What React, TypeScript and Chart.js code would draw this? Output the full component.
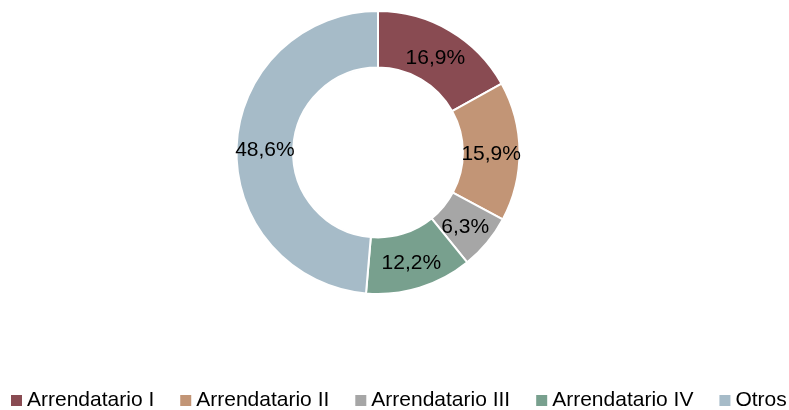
import React, { useEffect, useRef } from "react";
import { Chart, registerables } from "chart.js";

Chart.register(...registerables);

const categories = ["Arrendatario I", "Arrendatario II", "Arrendatario III", "Arrendatario IV", "Otros"];
const shares = [16.9, 15.9, 6.3, 12.2, 48.6];
const shareLabels = ["16,9%", "15,9%", "6,3%", "12,2%", "48,6%"];
const colors = ["#894B52", "#C29576", "#A6A6A6", "#78A08E", "#A6BBC8"];

const FONT = "'Liberation Sans', Arial, sans-serif";

const sliceLabelPlugin = {
  id: "sliceLabels",
  afterDatasetsDraw(chart: any) {
    const { ctx } = chart;
    const meta = chart.getDatasetMeta(0);
    ctx.save();
    ctx.font = `21px ${FONT}`;
    ctx.fillStyle = "#000";
    ctx.textAlign = "center";
    ctx.textBaseline = "middle";
    meta.data.forEach((arc: any, i: number) => {
      const p = arc.getProps(["x", "y", "startAngle", "endAngle", "innerRadius", "outerRadius"], true);
      const mid = (p.startAngle + p.endAngle) / 2;
      const r = (p.innerRadius + p.outerRadius) / 2;
      ctx.fillText(shareLabels[i], p.x + Math.cos(mid) * r, p.y + Math.sin(mid) * r + 3);
    });
    ctx.restore();
  },
};

const legendPlugin = {
  id: "bottomLegend",
  afterDraw(chart: any) {
    const { ctx } = chart;
    ctx.save();
    ctx.font = `21px ${FONT}`;
    ctx.textAlign = "left";
    ctx.textBaseline = "middle";
    let x = 11;
    const y = 400;
    categories.forEach((name, i) => {
      ctx.fillStyle = colors[i];
      ctx.fillRect(x, y - 5, 11, 11);
      ctx.fillStyle = "#000";
      ctx.fillText(name, x + 16, y);
      x += 16 + ctx.measureText(name).width + 26;
    });
    ctx.restore();
  },
};

export default function App() {
  const ref = useRef<HTMLCanvasElement | null>(null);
  useEffect(() => {
    if (!ref.current) return;
    const chart = new Chart(ref.current, {
      type: "doughnut",
      data: {
        labels: categories,
        datasets: [
          {
            data: shares,
            backgroundColor: colors,
            borderColor: "#ffffff",
            borderWidth: 2,
          },
        ],
      },
      options: {
        animation: false,
        responsive: true,
        maintainAspectRatio: false,
        cutout: "60%",
        layout: { padding: { top: 10, bottom: 115, left: 0, right: 33 } },
        plugins: {
          legend: { display: false },
          tooltip: { enabled: false },
        },
      },
      plugins: [sliceLabelPlugin, legendPlugin],
    });
    return () => chart.destroy();
  }, []);
  return (
    <div style={{ position: "absolute", left: 0, top: 0, width: 789, height: 410 }}>
      <canvas ref={ref} />
    </div>
  );
}
